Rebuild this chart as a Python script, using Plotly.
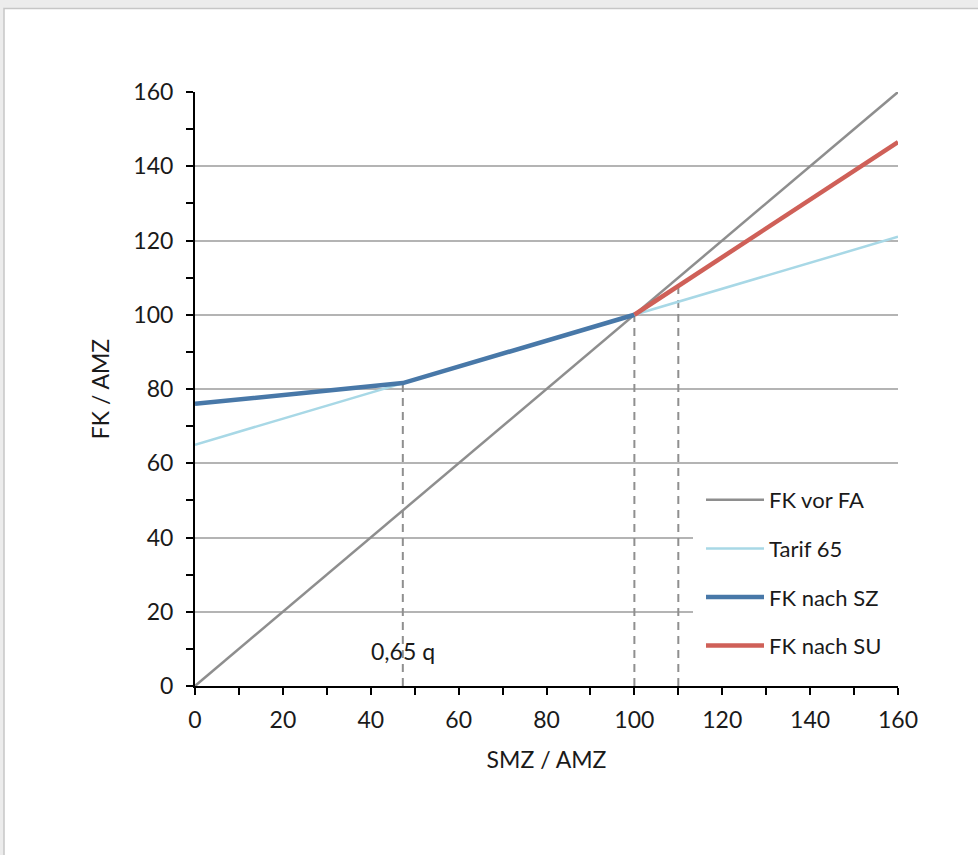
import plotly.graph_objects as go

# ---- data ----
q065 = 47.3
x_vor = [0, 160]
y_vor = [0, 160]
x_tarif = [0, 160]
y_tarif = [65, 121]
x_sz = [0, 47.3, 100]
y_sz = [76, 81.6, 100]
x_su = [100, 160]
y_su = [100, 146.5]
dash_x = [47.3, 100, 110]
dash_top = [81.6, 100, 107.8]
x_ticks = [0, 20, 40, 60, 80, 100, 120, 140, 160]
y_ticks = [0, 20, 40, 60, 80, 100, 120, 140, 160]

FONT = "Lato"
FS = 23
TXT = "#1a1a1a"
W, H = 978, 855
L, R, T, B = 195, 80, 92, 169
pw, ph = W - L - R, H - T - B

def px(xp):
    return (xp - L) / pw

def py(yp):
    return (H - B - yp) / ph

fig = go.Figure()

for dx, dt in zip(dash_x, dash_top):
    fig.add_trace(go.Scatter(x=[dx, dx], y=[0, dt], mode="lines",
                             line=dict(color="#8f8f8f", width=2, dash="8px,6px"),
                             showlegend=False, hoverinfo="skip"))

fig.add_trace(go.Scatter(x=x_vor, y=y_vor, mode="lines", name="FK vor FA",
                         legendgroup="a", line=dict(color="#8e8e8e", width=2.5)))
fig.add_trace(go.Scatter(x=x_tarif, y=y_tarif, mode="lines", name="Tarif 65",
                         legendgroup="b", line=dict(color="#a8d8e6", width=2.5)))
fig.add_trace(go.Scatter(x=x_sz, y=y_sz, mode="lines", name="FK nach SZ",
                         legendgroup="c", line=dict(color="#4878a8", width=4.5)))
fig.add_trace(go.Scatter(x=x_su, y=y_su, mode="lines", name="FK nach SU",
                         legendgroup="d", line=dict(color="#cf6058", width=4.5)))

fig.add_annotation(x=q065, y=9.3, text="0,65 q", showarrow=False,
                   font=dict(family=FONT, size=FS, color=TXT))

# page frame
fig.add_shape(type="rect", xref="paper", yref="paper",
              x0=px(4), x1=px(990), y0=py(870), y1=py(8.5),
              fillcolor="white", line=dict(color="#c6c6c6", width=1.5), layer="below")
# white legend box (covers gridlines behind legend)
fig.add_shape(type="rect", xref="paper", yref="paper",
              x0=px(693), x1=px(899), y0=py(672), y1=py(474),
              fillcolor="white", line=dict(width=0), layer="above")

axis_common = dict(
    showline=True, linecolor="black", linewidth=2,
    ticks="outside", ticklen=7, tickwidth=2, tickcolor="black",
    tickfont=dict(family=FONT, size=FS, color=TXT),
    minor=dict(dtick=10, ticks="outside", ticklen=7, tickwidth=2, tickcolor="black", showgrid=False),
    zeroline=False,
)

fig.update_xaxes(range=[0, 160], tickvals=x_ticks, showgrid=False, ticklabelstandoff=5,
                 title=dict(text="SMZ / AMZ", font=dict(family=FONT, size=FS, color=TXT), standoff=20),
                 **axis_common)
fig.update_yaxes(range=[0, 160], tickvals=y_ticks, showgrid=True, gridcolor="#b4b4b4", gridwidth=2,
                 ticklabelstandoff=8,
                 title=dict(text="FK / AMZ", font=dict(family=FONT, size=FS, color=TXT), standoff=17),
                 **axis_common)

fig.update_layout(
    width=W, height=H,
    margin=dict(l=L, r=R, t=T, b=B, autoexpand=False),
    paper_bgcolor="#ececec", plot_bgcolor="white",
    font=dict(family=FONT, color=TXT),
    legend=dict(x=px(701), y=py(479), xanchor="left", yanchor="top",
                bgcolor="rgba(0,0,0,0)", borderwidth=0, traceorder="grouped",
                tracegroupgap=17, itemwidth=58,
                font=dict(family=FONT, size=FS - 1, color=TXT)),
    showlegend=True,
)

fig.write_html("out.html")
